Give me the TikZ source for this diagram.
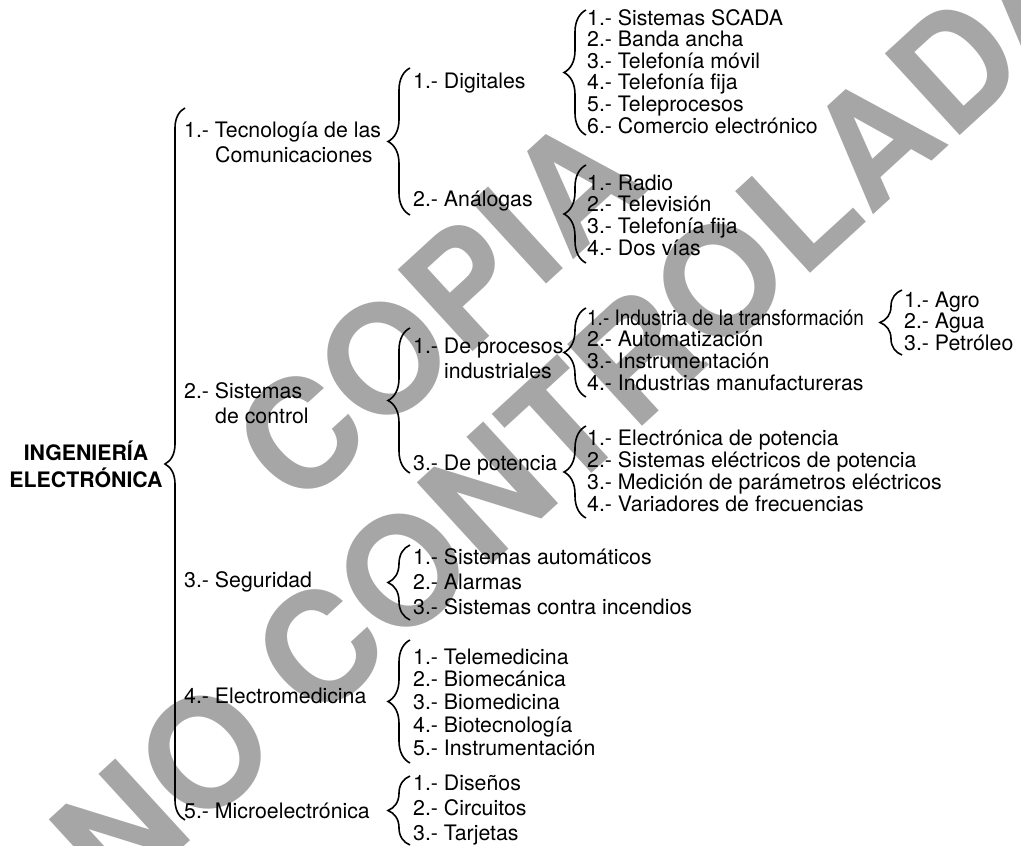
\documentclass[tikz,border=0pt]{standalone}
\usepackage{fontspec}
\setmainfont{TeX Gyre Heros}
\usetikzlibrary{decorations.pathreplacing}
\tikzstyle{item}=[anchor=base west,inner sep=0pt,font=\fontsize{21.3}{25}\selectfont]
\tikzstyle{root}=[anchor=base,inner sep=0pt,font=\fontsize{21.3}{26}\selectfont\bfseries]
\tikzstyle{curly}=[draw,line width=1.6pt,decorate,decoration={brace,amplitude=22pt}]
\tikzstyle{wmark}=[anchor=base west,inner sep=0pt,text=black!35,rotate=42.5,font=\fontsize{152}{170}\selectfont\bfseries]
\newcommand{\twolines}[2]{\begin{tabular}[t]{@{}l@{}}#1\\\hspace*{31pt}#2\end{tabular}}

\begin{document}
\begin{tikzpicture}[x=1pt,y=-1pt]
    \useasboundingbox (0,0) rectangle (1021,846);

    % watermark behind everything
    \node[wmark] (wm1) at (297,513) {COPIA};
    \node[wmark] (wm2) at (116,909) {NO CONTROLADA};

    \node[root] (ing) at (86,460) {\begin{tabular}[t]{@{}c@{}}INGENIERÍA\\ELECTRÓNICA\end{tabular}};

    % first level
    \node[item] (tec) at (184,137) {\twolines{1.- Tecnología de las}{Comunicaciones}};
    \node[item] (ctrl) at (184,398) {\twolines{2.- Sistemas}{de control}};
    \node[item] (seg) at (184,587) {3.- Seguridad};
    \node[item] (elec) at (184,703) {4.- Electromedicina};
    \node[item] (micro) at (184,818) {5.- Microelectrónica};

    % second level
    \node[item] (dig) at (413,88) {1.- Digitales};
    \node[item] (ana) at (413,206) {2.- Análogas};
    \node[item] (proc) at (413,353) {\twolines{1.- De procesos}{industriales}};
    \node[item] (pot) at (413,470) {3.- De potencia};

    \foreach \txt [count=\i] in {Sistemas automáticos, Alarmas, Sistemas contra incendios}
        \node[item] (seg\i) at (413,{564+25*(\i-1)}) {\i.- \txt};
    \foreach \txt [count=\i] in {Telemedicina, Biomecánica, Biomedicina, Biotecnología, Instrumentación}
        \node[item] (elec\i) at (413,{664+22.75*(\i-1)}) {\i.- \txt};
    \foreach \txt [count=\i] in {Diseños, Circuitos, Tarjetas}
        \node[item] (micro\i) at (413,{790+25*(\i-1)}) {\i.- \txt};

    % third level
    \foreach \txt [count=\i] in {Sistemas SCADA, Banda ancha, Telefonía móvil, Telefonía fija, Teleprocesos, Comercio electrónico}
        \node[item] (dig\i) at (587,{25+21.6*(\i-1)}) {\i.- \txt};
    \foreach \txt [count=\i] in {Radio, Televisión, Telefonía fija, Dos vías}
        \node[item] (ana\i) at (587,{190+21.7*(\i-1)}) {\i.- \txt};
    \node[item] (proc1) at (587,325) {\scalebox{0.89}[1]{1.- Industria de la transformación}};
    \foreach \txt [count=\i from 2] in {Automatización, Instrumentación, Industrias manufactureras}
        \node[item] (proc\i) at (587,{325+21.7*(\i-1)}) {\i.- \txt};
    \foreach \txt [count=\i] in {Electrónica de potencia, Sistemas eléctricos de potencia, Medición de parámetros eléctricos, Variadores de frecuencias}
        \node[item] (pot\i) at (587,{445+22*(\i-1)}) {\i.- \txt};

    % fourth level
    \foreach \txt [count=\i] in {Agro, Agua, Petróleo}
        \node[item] (agro\i) at (904,{307+21.5*(\i-1)}) {\i.- \txt};

    % braces
    \coordinate (main-b) at (185,820);
    \coordinate (main-t) at (185,108);
    \draw[curly,decoration={amplitude=20pt}] (main-b) -- (main-t);
    \foreach \name/\x/\top/\bot in {tec/410/68/215, ctrl/410/328/473, seg/410/545/620, elec/410/640/763, micro/410/776/845,
        dig/586/10/135, ana/586/165/263, proc/586/308/397, pot/586/426/518, agro/902/290/355} {
        \coordinate (\name-b) at (\x,\bot);
        \coordinate (\name-t) at (\x,\top);
        \draw[curly] (\name-b) -- (\name-t);
    }
\end{tikzpicture}
\end{document}
